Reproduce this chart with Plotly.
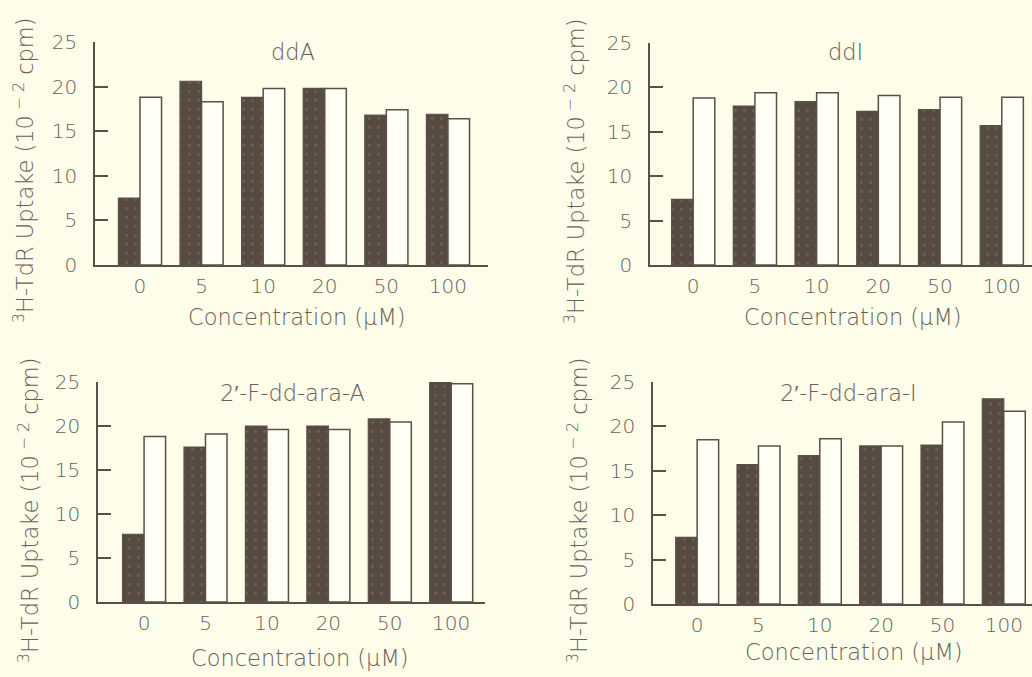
import plotly.graph_objects as go

concentrations = ["0", "5", "10", "20", "50", "100"]
y_ticks = [0, 5, 10, 15, 20, 25]

panel_titles = ["ddA", "ddI", "2′-F-dd-ara-A", "2′-F-dd-ara-I"]

ddA_dark = [7.5, 20.6, 18.8, 19.8, 16.8, 16.9]
ddA_white = [18.8, 18.3, 19.8, 19.8, 17.4, 16.4]
ddI_dark = [7.4, 17.9, 18.4, 17.3, 17.5, 15.7]
ddI_white = [18.8, 19.4, 19.4, 19.1, 18.9, 18.9]
FddaraA_dark = [7.7, 17.6, 20.0, 20.0, 20.8, 25.0]
FddaraA_white = [18.8, 19.1, 19.6, 19.6, 20.45, 24.8]
FddaraI_dark = [7.5, 15.7, 16.7, 17.8, 17.9, 23.1]
FddaraI_white = [18.5, 17.8, 18.6, 17.8, 20.5, 21.7]

W, H = 1032, 677
BG = "#fdfde9"
INK = "#5a5049"
TXT = "#66605a"
DARK = "#574a40"
FONT = "DejaVu Sans"
FW = 200
FS = 20
FT = 22.5

darks = [ddA_dark, ddI_dark, FddaraA_dark, FddaraI_dark]
whites = [ddA_white, ddI_white, FddaraA_white, FddaraI_white]

# pixel geometry of each panel: (x_left, x_right, y_top(25), y_bottom(0), xrange)
panels = [
    (95, 488, 42, 265, [-0.73, 5.65]),
    (650, 1032, 43, 265, [-0.70, 5.49]),
    (98, 485, 382, 602, [-0.75, 5.55]),
    (653, 1032, 382, 604, [-0.72, 5.46]),
]
title_pos = [(293, 52), (845, 52), (292, 393), (848, 393)]
xtitle_pos = [(297, 317), (853, 317), (300, 658), (854, 652)]
ytitle_pos = [(23, 170), (574, 171), (29, 510), (578, 510)]

fig = go.Figure()
layout = {}
annotations = []
for i in range(4):
    xl, xr, yt, yb, xrange = panels[i]
    sfx = "" if i == 0 else str(i + 1)
    xa, ya = "x" + sfx, "y" + sfx
    fig.add_trace(go.Bar(x=concentrations, y=darks[i], xaxis=xa, yaxis=ya,
                         marker=dict(color=DARK, line=dict(color=INK, width=1.2),
                                     pattern=dict(shape=".", fgcolor="#857a70",
                                                  bgcolor=DARK, size=9, solidity=0.08)),
                         offsetgroup="a", showlegend=False, hoverinfo="skip"))
    fig.add_trace(go.Bar(x=concentrations, y=whites[i], xaxis=xa, yaxis=ya,
                         marker=dict(color="#fffff6", line=dict(color=INK, width=1.5)),
                         offsetgroup="b", showlegend=False, hoverinfo="skip"))
    layout["xaxis" + sfx] = dict(
        domain=[xl / W, min(xr / W, 1.0)], anchor=ya, type="category",
        range=xrange, showline=True, linecolor=INK, linewidth=1.5,
        ticks="", showgrid=False, zeroline=False, ticklabelstandoff=2,
        automargin=False,
        tickfont=dict(family=FONT, size=FS, color=TXT, weight=FW),
    )
    layout["yaxis" + sfx] = dict(
        domain=[1 - yb / H, 1 - yt / H], anchor=xa, range=[0, 25],
        tickvals=y_ticks, showline=True, linecolor=INK, linewidth=1.5,
        ticks="inside", ticklen=13, tickwidth=1.5, tickcolor=INK,
        showgrid=False, zeroline=False, ticklabelstandoff=12,
        automargin=False,
        tickfont=dict(family=FONT, size=FS, color=TXT, weight=FW),
    )
    tx, ty = title_pos[i]
    annotations.append(dict(text=panel_titles[i], x=tx / W, y=1 - ty / H,
                            xref="paper", yref="paper", showarrow=False,
                            xanchor="center", yanchor="middle",
                            font=dict(family=FONT, size=FT, color=TXT, weight=FW)))
    cx, cy = xtitle_pos[i]
    annotations.append(dict(text="Concentration (μM)", x=cx / W, y=1 - cy / H,
                            xref="paper", yref="paper", showarrow=False,
                            xanchor="center", yanchor="middle",
                            font=dict(family=FONT, size=FT, color=TXT, weight=FW)))
    yx, yy = ytitle_pos[i]
    annotations.append(dict(text="<sup>3</sup>H-TdR Uptake (10<sup> − 2</sup> cpm)",
                            x=yx / W, y=1 - yy / H, textangle=-90,
                            xref="paper", yref="paper", showarrow=False,
                            xanchor="center", yanchor="middle",
                            font=dict(family=FONT, size=FT, color=TXT, weight=FW)))

fig.update_layout(**layout)
fig.update_layout(
    width=W, height=H, margin=dict(l=0, r=0, t=0, b=0),
    paper_bgcolor=BG, plot_bgcolor=BG,
    barmode="group", bargap=0.3, bargroupgap=0.0,
    annotations=annotations, showlegend=False,
)
fig.write_html("out.html", config={"displayModeBar": False},
               post_script="document.body.style.margin='0';document.body.style.background='%s';" % BG)
